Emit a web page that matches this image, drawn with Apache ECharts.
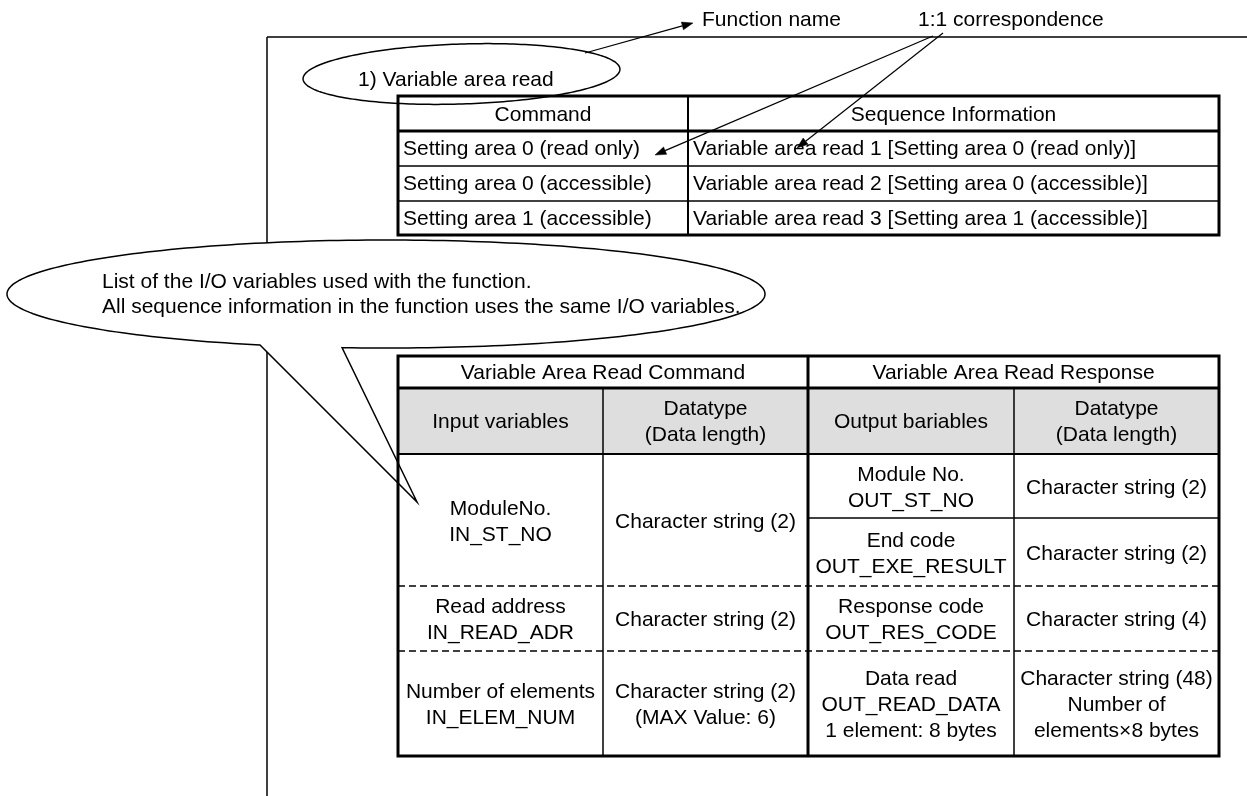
<!DOCTYPE html>
<html>
<head>
<meta charset="utf-8">
<script src="https://cdn.jsdelivr.net/npm/echarts@6.0.0/dist/echarts.min.js"></script>
<style>
html,body{margin:0;padding:0;background:#fff;}
#chart{width:1247px;height:796px;}
</style>
</head>
<body>
<div id="chart"></div>
<script>
// ---------- data (texts of the diagram) ----------
const functionName = '1) Variable area read';
const annotations = ['Function name', '1:1 correspondence'];
const calloutLines = [
  'List of the I/O variables used with the function.',
  'All sequence information in the function uses the same I/O variables.'
];
const seqHeaders = ['Command', 'Sequence Information'];
const commandNames = [
  'Setting area 0 (read only)',
  'Setting area 0 (accessible)',
  'Setting area 1 (accessible)'
];
const sequenceNames = [
  'Variable area read 1 [Setting area 0 (read only)]',
  'Variable area read 2 [Setting area 0 (accessible)]',
  'Variable area read 3 [Setting area 1 (accessible)]'
];
const ioTitles = ['Variable Area Read Command', 'Variable Area Read Response'];
const ioHeaders = ['Input variables', 'Datatype\n(Data length)', 'Output bariables', 'Datatype\n(Data length)'];
const inputVariables = ['ModuleNo.\nIN_ST_NO', 'Read address\nIN_READ_ADR', 'Number of elements\nIN_ELEM_NUM'];
const inputDatatypes = ['Character string (2)', 'Character string (2)', 'Character string (2)\n(MAX Value: 6)'];
const outputVariables = ['Module No.\nOUT_ST_NO', 'End code\nOUT_EXE_RESULT', 'Response code\nOUT_RES_CODE', 'Data read\nOUT_READ_DATA\n1 element: 8 bytes'];
const outputDatatypes = ['Character string (2)', 'Character string (2)', 'Character string (4)', 'Character string (48)\nNumber of\nelements\u00d78 bytes'];

// ---------- drawing ----------
const K = '#000';
const FONT = '21px "Liberation Sans", Arial, sans-serif';
const els = [];
function ln(x1, y1, x2, y2, w, dash) {
  els.push({type: 'line', silent: true, shape: {x1, y1, x2, y2},
    style: {stroke: K, lineWidth: w, lineDash: dash || null}});
}
function box(x, y, w, h, lw, fill) {
  els.push({type: 'rect', silent: true, shape: {x, y, width: w, height: h},
    style: {fill: fill || 'none', stroke: lw ? K : 'none', lineWidth: lw || 0}});
}
function tx(x, y, t, align) {
  const a = align || 'center';
  els.push({type: 'text', silent: true, x, y,
    style: {text: t, fill: K, font: FONT, align: a, textAlign: a,
      verticalAlign: 'middle', textVerticalAlign: 'middle', lineHeight: 26}});
}
function ellPts(cx, cy, rx, ry, phi, t0, t1, n) {
  const pts = [];
  for (let i = 0; i <= n; i++) {
    const t = t0 + (t1 - t0) * i / n;
    const ex = rx * Math.cos(t), ey = ry * Math.sin(t);
    pts.push([cx + ex * Math.cos(phi) - ey * Math.sin(phi), cy + ex * Math.sin(phi) + ey * Math.cos(phi)]);
  }
  return pts;
}
function arrow(x1, y1, x2, y2) {
  const dx = x2 - x1, dy = y2 - y1, L = Math.hypot(dx, dy);
  const ux = dx / L, uy = dy / L, len = 11, hw = 4;
  const bx = x2 - ux * len, by = y2 - uy * len;
  ln(x1, y1, bx, by, 1.2);
  els.push({type: 'polygon', silent: true,
    shape: {points: [[x2, y2], [bx - uy * hw, by + ux * hw], [bx + uy * hw, by - ux * hw]]},
    style: {fill: K, stroke: K, lineWidth: 0.5}});
}

// frame
ln(267, 37, 1247, 37, 1.5);
ln(267, 37, 267, 796, 1.5);

// big callout (ellipse with tail)
{
  const cx = 386, cy = 294, rx = 379, ry = 54;
  const ta = Math.acos((342 - cx) / rx);
  const tb = Math.acos((260 - cx) / rx) - 2 * Math.PI;
  const pts = ellPts(cx, cy, rx, ry, 0, ta, tb, 240);
  pts.push([417, 502]);
  els.push({type: 'polygon', silent: true, shape: {points: pts},
    style: {fill: '#fff', stroke: K, lineWidth: 1.5}});
}

// table 1
{
  const x0 = 398, xm = 688, x1 = 1219;
  const ys = [96, 131, 166, 201, 235];
  ln(x0, ys[1], x1, ys[1], 3);
  for (let i = 2; i < ys.length - 1; i++) ln(x0, ys[i], x1, ys[i], 1.5);
  ln(xm, ys[0], xm, ys[4], 2);
  box(x0, ys[0], x1 - x0, ys[4] - ys[0], 3);
  tx((x0 + xm) / 2, (ys[0] + ys[1]) / 2 + 1.5, seqHeaders[0]);
  tx((xm + x1) / 2, (ys[0] + ys[1]) / 2 + 1.5, seqHeaders[1]);
  commandNames.forEach((c, i) => tx(x0 + 5, (ys[i + 1] + ys[i + 2]) / 2 + 1, c, 'left'));
  sequenceNames.forEach((c, i) => tx(xm + 5, (ys[i + 1] + ys[i + 2]) / 2 + 1, c, 'left'));
}

// table 2
{
  const cols = [398, 603, 808, 1014, 1219];
  const yTop = 356, yTitle = 388, yHead = 454, yBot = 756;
  const inRows = [454, 586, 651, 756];
  const outRows = [454, 518, 586, 651, 756];
  box(cols[0], yTitle, cols[4] - cols[0], yHead - yTitle, 0, '#dedede');
  ln(cols[0], yTitle, cols[4], yTitle, 3);
  ln(cols[0], yHead, cols[4], yHead, 2);
  ln(cols[1], yTitle, cols[1], yBot, 1.5);
  ln(cols[3], yTitle, cols[3], yBot, 1.5);
  ln(cols[0], 586, cols[4], 586, 1.5, [7, 4]);
  ln(cols[0], 651, cols[4], 651, 1.5, [7, 4]);
  ln(cols[2], 518, cols[4], 518, 1.5);
  ln(cols[2], yTop, cols[2], yBot, 3);
  box(cols[0], yTop, cols[4] - cols[0], yBot - yTop, 3);
  tx((cols[0] + cols[2]) / 2, (yTop + yTitle) / 2 + 1, ioTitles[0]);
  tx((cols[2] + cols[4]) / 2, (yTop + yTitle) / 2 + 1, ioTitles[1]);
  ioHeaders.forEach((h, i) => tx((cols[i] + cols[i + 1]) / 2, (yTitle + yHead) / 2 + 1, h));
  inputVariables.forEach((t, i) => tx((cols[0] + cols[1]) / 2, (inRows[i] + inRows[i + 1]) / 2 + 2, t));
  inputDatatypes.forEach((t, i) => tx((cols[1] + cols[2]) / 2, (inRows[i] + inRows[i + 1]) / 2 + 2, t));
  outputVariables.forEach((t, i) => tx((cols[2] + cols[3]) / 2, (outRows[i] + outRows[i + 1]) / 2 + 2, t));
  outputDatatypes.forEach((t, i) => tx((cols[3] + cols[4]) / 2, (outRows[i] + outRows[i + 1]) / 2 + 2, t));
}

// small ellipse with function name
els.push({type: 'polygon', silent: true,
  shape: {points: ellPts(461.5, 74, 158.5, 30, -0.031, 0, 2 * Math.PI, 240)},
  style: {fill: 'none', stroke: K, lineWidth: 1.5}});
tx(358, 80, functionName, 'left');

// annotations and arrows
arrow(585, 53, 693, 23);
tx(702, 20, annotations[0], 'left');
tx(918, 20, annotations[1], 'left');
arrow(933, 36, 655, 155);
arrow(943, 33, 797, 148);

// callout text
tx(102, 282, calloutLines[0], 'left');
tx(102, 307, calloutLines[1], 'left');

const chart = echarts.init(document.getElementById('chart'), null, {renderer: 'canvas', width: 1247, height: 796});
chart.setOption({
  backgroundColor: '#fff',
  animation: false,
  graphic: {elements: els}
});
</script>
</body>
</html>
